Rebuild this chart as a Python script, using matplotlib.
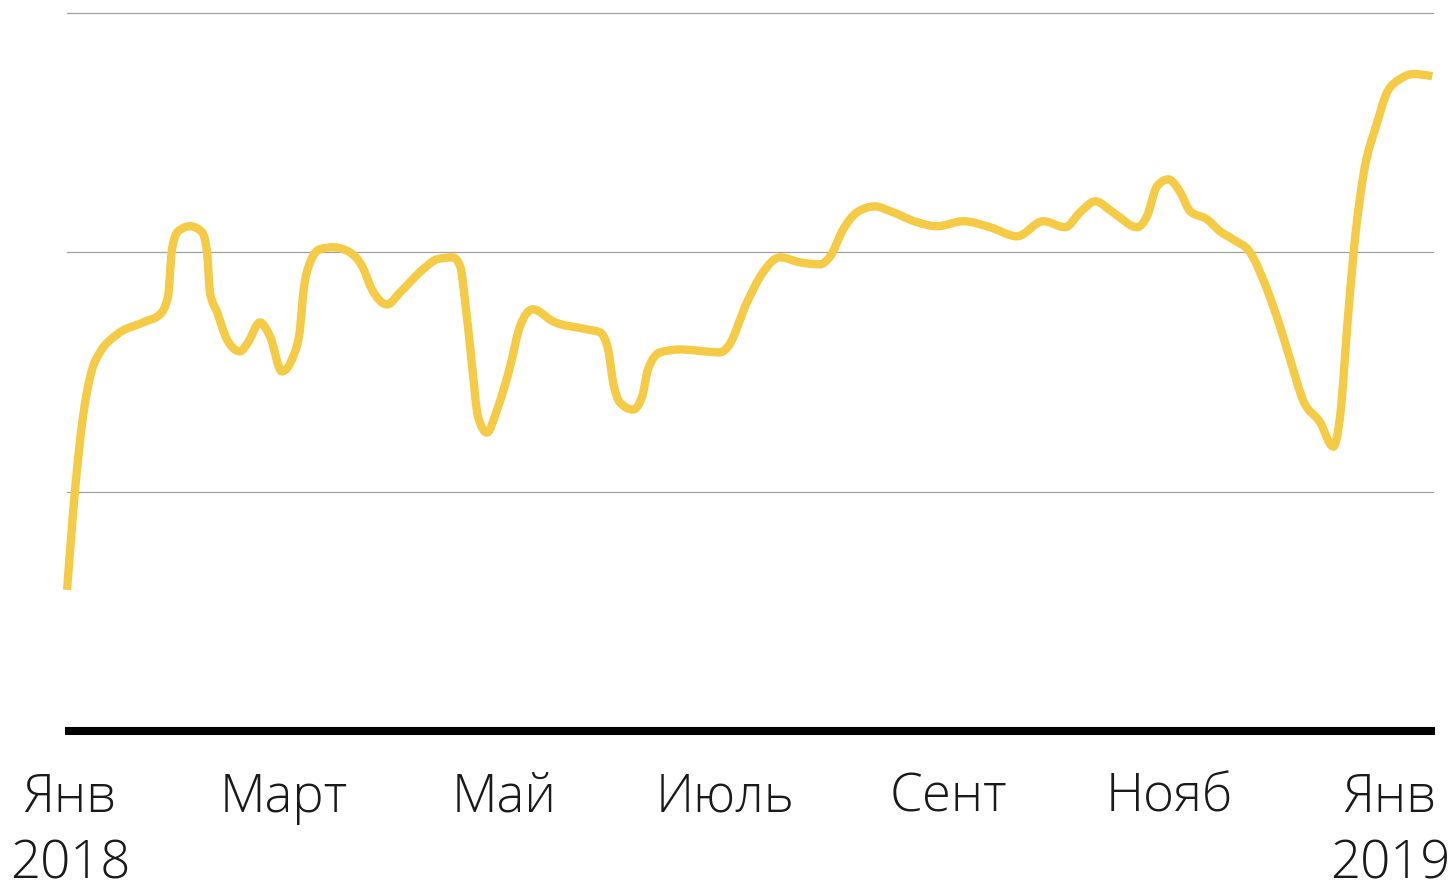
import matplotlib
matplotlib.use('Agg')
import matplotlib.pyplot as plt
from matplotlib.path import Path
from matplotlib.patches import PathPatch

# days since 1 Jan 2018
days = [-0.8, 1.4, 3.6, 6.1, 8.3, 13.0, 20.2, 24.9, 27.1, 28.2, 29.9,
        33.2, 36.5, 37.9, 38.7, 40.7, 43.4, 47.0, 49.2, 52.5, 55.3,
        58.6, 61.7, 63.6, 64.4, 66.4, 69.1, 72.7, 77.4, 80.8, 83.5,
        87.7, 91.3, 97.6, 101.5, 105.9, 107.9, 109.2, 111.2, 112.8, 115.3,
        118.1, 121.7, 124.4, 128.0, 133.6, 143.0, 146.6, 148.8, 150.2, 152.1,
        155.7, 158.2, 159.8, 163.2, 168.7, 179.8, 182.0, 187.2, 191.6, 196.3,
        201.9, 207.4, 210.2, 213.8, 217.6, 222.6, 226.8, 234.2, 239.8, 247.0,
        254.4, 261.9, 269.1, 275.2, 279.3, 283.5, 288.4, 295.1, 297.8, 300.6,
        303.7, 307.0, 309.7, 314.4, 318.0, 321.6, 326.3, 331.0, 334.6, 337.4,
        341.0, 345.7, 349.3, 351.2, 353.4, 355.4, 357.6, 361.5, 364.2, 367.8,
        371.4, 376.7]
values = [59.0, 100.8, 131.4, 151.0, 158.2, 165.7, 170.7, 174.1, 181.6, 201.3, 208.8,
          210.9, 208.4, 200.0, 183.3, 174.9, 163.6, 158.6, 162.3, 170.7, 164.9,
          150.2, 156.5, 167.8, 181.6, 195.8, 201.3, 202.1, 200.0, 194.1, 184.5,
          178.2, 183.3, 192.9, 197.1, 197.9, 194.1, 180.3, 152.3, 131.4, 124.7,
          134.3, 152.3, 169.0, 176.2, 171.1, 167.8, 166.5, 159.4, 145.6, 137.2,
          134.3, 139.7, 151.0, 158.2, 159.4, 158.2, 160.7, 179.1, 191.6, 197.9,
          195.8, 195.0, 198.3, 209.6, 216.7, 219.2, 217.2, 212.6, 210.9, 213.0,
          210.5, 206.7, 213.0, 210.5, 216.7, 221.3, 216.7, 210.5, 215.1, 227.6,
          230.5, 225.1, 217.2, 213.8, 208.8, 205.4, 200.0, 184.5, 169.0, 155.2,
          138.1, 128.9, 118.8, 131.4, 173.2, 206.7, 231.8, 254.4, 266.9, 272.4,
          274.5, 273.6]

tick_days = [0, 59, 120, 181, 243, 304, 365]
tick_labels = ['Янв\n2018', 'Март', 'Май', 'Июль', 'Сент', 'Нояб', 'Янв\n2019']
grid_levels = [100, 200, 300]


def sign(v):
    return (v > 0) - (v < 0)


def monotone_path(xs, ys):
    """Monotone cubic curve through the points (like d3 curveMonotoneX)."""
    n = len(xs)
    h = [xs[i + 1] - xs[i] for i in range(n - 1)]
    s = [(ys[i + 1] - ys[i]) / h[i] for i in range(n - 1)]
    t = [0.0] * n
    for i in range(1, n - 1):
        p = (s[i - 1] * h[i] + s[i] * h[i - 1]) / (h[i - 1] + h[i])
        t[i] = (sign(s[i - 1]) + sign(s[i])) * min(abs(s[i - 1]), abs(s[i]), 0.5 * abs(p))
    t[0] = (3 * s[0] - t[1]) / 2
    t[-1] = (3 * s[-1] - t[-2]) / 2
    verts = [(xs[0], ys[0])]
    codes = [Path.MOVETO]
    for i in range(n - 1):
        d = h[i] / 3
        verts += [(xs[i] + d, ys[i] + d * t[i]),
                  (xs[i + 1] - d, ys[i + 1] - d * t[i + 1]),
                  (xs[i + 1], ys[i + 1])]
        codes += [Path.CURVE4] * 3
    return Path(verts, codes)


fig = plt.figure(figsize=(14.55, 8.88), dpi=100)
ax = fig.add_axes([67 / 1455, 1 - 731 / 888, 1366 / 1455, 718 / 888])

for lvl in grid_levels:
    ax.axhline(lvl, color='#a0a0a0', linewidth=0.9, zorder=1, clip_on=False)
ax.axhline(0, xmin=-0.0015, xmax=1.0015, color='black', linewidth=5.8,
           solid_capstyle='butt', zorder=3, clip_on=False)

curve = PathPatch(monotone_path(days, values), fill=False, edgecolor='#F5CA45',
                  linewidth=6, capstyle='butt', joinstyle='round',
                  zorder=2, clip_on=False)
ax.add_patch(curve)

ax.set_xlim(-0.83, 376.9)
ax.set_ylim(0, 300)
ax.set_yticks([])
ax.set_xticks(tick_days)
ax.set_xticklabels(tick_labels, fontsize=38, family='Open Sans',
                   weight='light', color='#1a1a1a', linespacing=1.33)
ax.tick_params(axis='x', length=0, pad=29)
for s in ax.spines.values():
    s.set_visible(False)

fig.savefig('out.png', dpi=100)
